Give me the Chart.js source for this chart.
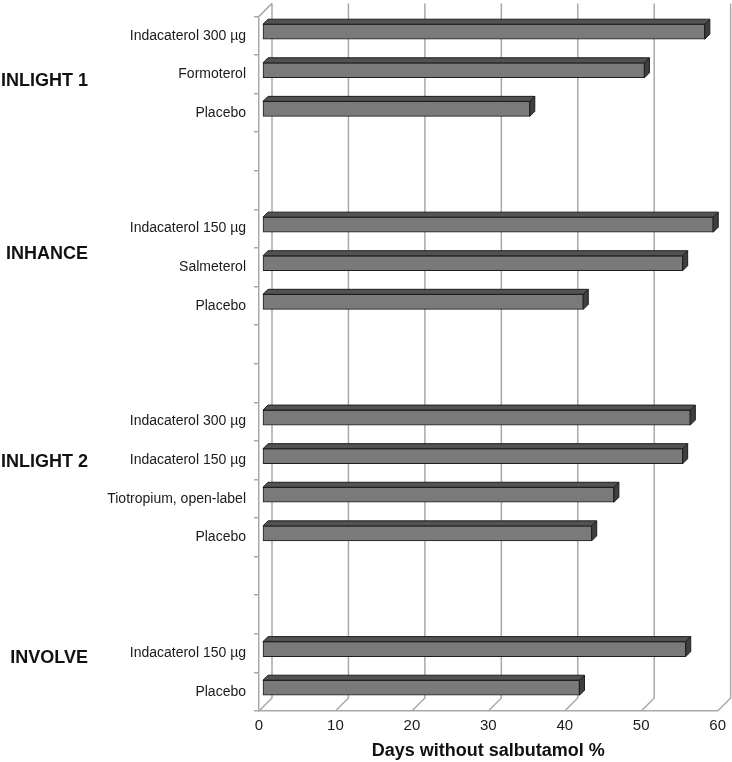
<!DOCTYPE html>
<html>
<head>
<meta charset="utf-8">
<script src="https://cdn.jsdelivr.net/npm/chart.js@4"></script>
<style>
  html, body { margin: 0; padding: 0; background: #fff; }
  #wrap { width: 732px; height: 762px; }
</style>
</head>
<body>
<div id="wrap"><canvas id="barChart"></canvas></div>
<script>
// rows top to bottom, empty strings are the gaps between studies
const rowLabels = [
  "Indacaterol 300 µg", "Formoterol", "Placebo", "", "",
  "Indacaterol 150 µg", "Salmeterol", "Placebo", "", "",
  "Indacaterol 300 µg", "Indacaterol 150 µg", "Tiotropium, open-label", "Placebo", "", "",
  "Indacaterol 150 µg", "Placebo"
];
const daysPct = [
  57.8, 49.9, 34.9, null, null,
  58.9, 54.9, 41.9, null, null,
  55.9, 54.9, 45.9, 43.0, null, null,
  55.3, 41.4
];
const groupNames = ["INLIGHT 1", "INHANCE", "INLIGHT 2", "INVOLVE"];
const groupRow = [1.17, 5.66, 11.06, 16.14]; // where each study name sits on the row axis
const xTicks = [0, 10, 20, 30, 40, 50, 60];

const DEPTH = 13;    // back wall offset
const BAR_OFF = 4;   // bars sit a bit behind the front plane
const BAR_DEPTH = 5;
const GRID = "#a9a9a9";
const FONT = "'Liberation Sans', Arial, sans-serif";

const box3d = {
  id: "box3d",
  beforeDatasetsDraw(chart) {
    const { ctx, chartArea: a, scales: { x } } = chart;
    ctx.save();
    ctx.strokeStyle = GRID;
    ctx.lineWidth = 1.5;
    ctx.beginPath();
    xTicks.forEach(v => {
      const px = x.getPixelForValue(v);
      ctx.moveTo(px + DEPTH, a.top - DEPTH);
      ctx.lineTo(px + DEPTH, a.bottom - DEPTH);
      ctx.lineTo(px, a.bottom);
    });
    ctx.moveTo(a.left, a.top);
    ctx.lineTo(a.left + DEPTH, a.top - DEPTH);
    ctx.stroke();
    ctx.restore();
    // bars are drawn a little deeper than the axis plane
    ctx.save();
    ctx.translate(BAR_OFF, -BAR_OFF);
  },
  afterDatasetsDraw(chart) {
    const ctx = chart.ctx;
    ctx.lineWidth = 1;
    ctx.strokeStyle = "#1e1e1e";
    chart.getDatasetMeta(0).data.forEach((bar, i) => {
      if (daysPct[i] == null) return;
      const { x: xe, y: yc, base, height } = bar.getProps(["x", "y", "base", "height"], true);
      const top = yc - height / 2, bot = yc + height / 2;
      // top face
      ctx.beginPath();
      ctx.moveTo(base, top);
      ctx.lineTo(base + BAR_DEPTH, top - BAR_DEPTH);
      ctx.lineTo(xe + BAR_DEPTH, top - BAR_DEPTH);
      ctx.lineTo(xe, top);
      ctx.closePath();
      ctx.fillStyle = "#525252";
      ctx.fill();
      ctx.stroke();
      // end face
      ctx.beginPath();
      ctx.moveTo(xe, top);
      ctx.lineTo(xe + BAR_DEPTH, top - BAR_DEPTH);
      ctx.lineTo(xe + BAR_DEPTH, bot - BAR_DEPTH);
      ctx.lineTo(xe, bot);
      ctx.closePath();
      ctx.fillStyle = "#3f3f3f";
      ctx.fill();
      ctx.stroke();
    });
    ctx.restore();
  },
  afterDraw(chart) {
    const { ctx, scales: { y } } = chart;
    ctx.save();
    ctx.font = "bold 18px " + FONT;
    ctx.fillStyle = "#111";
    ctx.textAlign = "right";
    ctx.textBaseline = "middle";
    groupNames.forEach((name, i) => {
      ctx.fillText(name, 88, y.getPixelForValue(groupRow[i]));
    });
    ctx.restore();
  }
};

let ctx = document.getElementById("barChart").getContext("2d");
let barChart = new Chart(ctx, {
  type: "bar",
  data: {
    labels: rowLabels,
    datasets: [
      {
        data: daysPct,
        backgroundColor: "#7a7a7a",
        borderColor: "#1e1e1e",
        borderWidth: 1,
        borderSkipped: false,
        barThickness: 15,
        clip: false,
      },
    ],
  },
  options: {
    indexAxis: "y",
    responsive: true,
    maintainAspectRatio: false,
    animation: false,
    layout: { padding: { top: 11, right: 12, left: 0, bottom: 0 } },
    plugins: {
      legend: { display: false },
      tooltip: { enabled: false },
    },
    scales: {
      x: {
        min: 0,
        max: 60,
        afterFit: (s) => { s.height = 51; },
        afterBuildTicks: (s) => { s.ticks = xTicks.map(v => ({ value: v })); },
        grid: { display: false, drawTicks: false },
        border: { display: true, color: GRID, width: 1.5 },
        ticks: { padding: 6, color: "#1a1a1a", font: { size: 15, family: FONT } },
        title: {
          display: true,
          text: "Days without salbutamol %",
          color: "#111",
          padding: { top: 0, bottom: 0 },
          font: { size: 18, weight: "bold", family: FONT },
        },
      },
      y: {
        afterFit: (s) => { s.width = 259; },
        grid: { offset: true, drawOnChartArea: false, tickLength: 5, color: GRID, lineWidth: 1.5 },
        border: { display: true, color: GRID, width: 1.5 },
        ticks: { padding: 8, color: "#1a1a1a", autoSkip: false, font: { size: 14, family: FONT } },
      },
    },
  },
  plugins: [box3d],
});
</script>
</body>
</html>
